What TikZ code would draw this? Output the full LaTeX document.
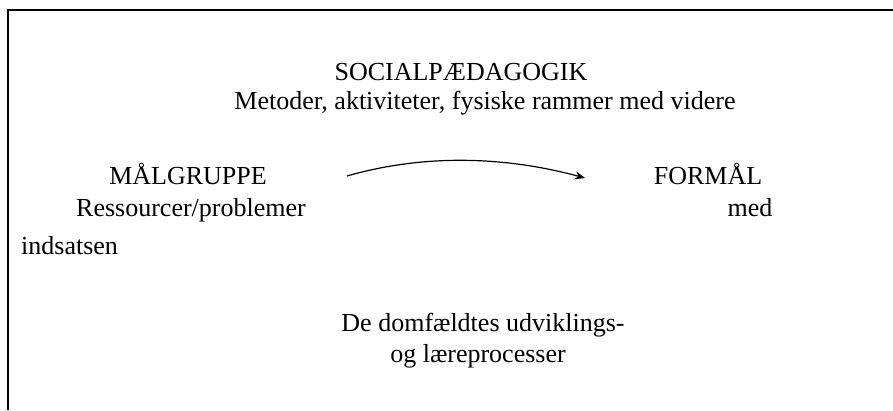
\documentclass[tikz,border=0pt]{standalone}
\usepackage{fontspec}
\setmainfont{Liberation Serif}
\usetikzlibrary{arrows.meta}

\begin{document}
\begin{tikzpicture}[x=1pt, y=-1pt, font=\fontsize{26}{30}\selectfont]
    \useasboundingbox (0,0) rectangle (893,410);
    % frame
    \draw[line width=1.6pt] (8,410) -- (8,10) -- (893,10);

    % texts
    \node[anchor = base, inner sep=0pt] (socped) at (461,80){SOCIALPÆDAGOGIK};
    \node[anchor = base, inner sep=0pt] (metoder) at (485,109){Metoder, aktiviteter, fysiske rammer med videre};
    \node[anchor = base, inner sep=0pt] (maalgruppe) at (188,184){MÅLGRUPPE};
    \node[anchor = base, inner sep=0pt] (formaal) at (708,184){FORMÅL};
    \node[anchor = base west, inner sep=0pt] (ressourcer) at (76,216){Ressourcer/problemer};
    \node[anchor = base, inner sep=0pt] (med) at (750,216){med};
    \node[anchor = base west, inner sep=0pt] (indsatsen) at (21,254){indsatsen};
    \node[anchor = base, inner sep=0pt] (domfaeldte) at (483,331){De domfældtes udviklings-};
    \node[anchor = base, inner sep=0pt] (laere) at (478,362){og læreprocesser};

    % arrow
    \coordinate (arrowstart) at (347,176);
    \coordinate (arrowend) at (585,178);
    \draw[line width=1.2pt, -{Stealth[length=10pt, width=8pt]}] (arrowstart) .. controls (420,155) and (500,155) .. (arrowend);
\end{tikzpicture}
\end{document}
